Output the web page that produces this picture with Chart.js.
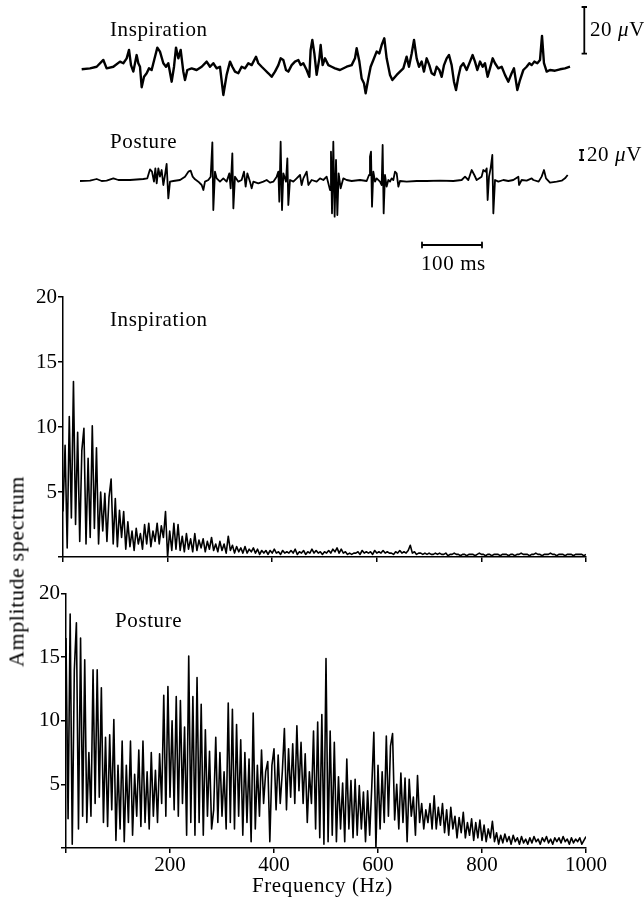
<!DOCTYPE html>
<html><head><meta charset="utf-8">
<script src="https://cdn.jsdelivr.net/npm/chart.js@4.4.1/dist/chart.umd.min.js"></script>
<style>
html,body{margin:0;padding:0;background:#fff;}
body{width:644px;height:907px;position:relative;overflow:hidden;font-family:"Liberation Serif","DejaVu Serif",serif;color:#000;}
canvas{position:absolute;left:0;}
.t{position:absolute;font-size:21px;line-height:21px;white-space:nowrap;letter-spacing:0.6px;}
.t i{font-style:italic;}
</style></head><body>
<canvas id="traces" width="644" height="280" style="top:0"></canvas>
<canvas id="spec1" width="644" height="300" style="top:280px"></canvas>
<canvas id="spec2" width="644" height="327" style="top:580px"></canvas>

<div class="t" style="left:110px;top:19px">Inspiration</div>
<div class="t" style="left:590px;top:19px">20 <i>μ</i>V</div>
<div class="t" style="left:110px;top:131px">Posture</div>
<div class="t" style="left:587px;top:144px">20 <i>μ</i>V</div>
<div class="t" style="left:421px;top:253px">100 ms</div>
<div class="t" style="left:110px;top:309px">Inspiration</div>
<div class="t" style="left:115px;top:610px">Posture</div>
<div class="t" style="left:252px;top:875px">Frequency (Hz)</div>
<div class="t" style="left:-134px;top:561px;width:300px;text-align:center;transform:rotate(-90deg);font-size:22px;">Amplitude spectrum</div>

<script>
// ---------- EMG traces (time in ms, amplitude in µV) ----------
const inspT = [2.8,16.7,27.8,38.9,44.4,55.6,66.7,72.2,77.8,81.7,85,88.9,94.4,97.2,100,102.8,106.7,111.1,115,119.4,125,128.9,133.3,138.9,143.3,147.2,152.8,156.7,160,163.9,167.8,172.2,175,178.9,186.1,194.4,202.8,211.1,216.7,222.2,227.8,233.3,238.9,244.4,250,253.9,258.3,263.9,269.4,275,280.6,286.1,293.3,297.2,302.8,308.3,313.9,319.4,325,330.6,334.4,338.9,343.3,347.2,352.8,358.3,363.9,367.8,372.2,377.8,382.2,384.4,387.2,390.6,394.4,398.9,401.1,404.4,408.3,413.9,419.4,425,433.3,444.4,452.8,458.3,461.1,465.6,469.4,473.3,476.1,480.6,484.4,488.9,494.4,498.9,502.8,507.2,511.1,516.7,520.6,527.8,533.3,538.9,544.4,548.3,552.8,556.7,561.1,565,569.4,573.3,577.8,582.2,586.1,590.6,594.4,598.9,602.8,606.7,611.1,615,619.4,623.3,626.7,630.6,634.4,638.9,644.4,650,654.4,658.3,662.2,666.7,671.1,675,679.4,683.3,687.8,691.7,697.2,702.8,708.3,713.9,719.4,723.3,728.9,733.3,738.9,744.4,748.9,752.8,757.2,762.2,766.7,770,773.3,777.8,783.3,791.7,800,808.3,816.7];
const inspV = [0.3,0.7,1.4,4.3,0.7,1.4,3.6,2.9,5.0,8.6,2.1,-0.7,6.4,2.9,1.4,-7.4,-2.9,-1.4,0.7,0,5.7,9.6,7.9,2.9,1.4,2.9,-5.0,1.4,9.6,5.0,8.6,-0.7,-4.3,0,0.7,0,1.4,3.6,1.4,2.9,0.7,1.4,-10.7,-2.1,3.6,1.4,-0.7,-1.4,1.4,0.7,2.9,2.1,5.7,2.9,1.4,0,-1.4,-2.9,-0.7,2.1,5.0,4.3,0,-0.7,2.1,3.6,4.3,2.1,2.9,0,-2.9,8.6,12.9,7.1,-2.1,5.0,10.7,2.1,5.0,2.1,1.4,0.7,0,1.4,2.1,5.0,9.3,3.6,-3.6,-5.7,-10.0,-3.6,1.4,4.3,7.9,7.1,10.7,13.6,5.0,-2.1,-4.3,-2.1,-0.7,0.7,5.7,1.4,7.1,12.9,5.0,1.4,3.6,-0.7,5.0,2.1,-1.4,-2.1,1.4,0,-2.9,2.1,5.0,6.4,2.1,-5.0,-8.6,-2.9,1.4,2.9,0,3.6,6.4,3.6,0,3.6,1.4,2.9,-2.9,0.7,5.0,2.9,0.7,1.4,-2.1,-5.0,-1.4,0.7,-8.6,-4.3,0,1.4,2.9,2.1,3.6,2.9,4.3,14.6,2.9,-0.7,0,-0.3,0.3,0.7,1.4];

const postT = [0,16.7,27.8,36.1,44.4,55.6,63.9,83.3,105.6,112.2,116.7,120,123.3,125.6,127.8,130.6,133.3,136.1,138.9,141.7,144.4,147.2,150,155.6,166.7,175,180.6,184.4,187.8,191.7,197.2,202.8,205.6,208.3,213.9,217.8,220.6,222.2,225,227.8,233.3,238.9,244.4,248.9,251.1,253.9,255.6,258.3,263.9,269.4,273.3,276.1,278.9,283.3,286.1,288.9,297.2,305.6,311.1,316.7,322.2,327.8,330.6,332.2,334.4,336.7,338.9,343.3,345.6,347.2,350,355.6,361.1,366.7,369.4,372.2,377.8,380.6,386.1,394.4,400,405.6,411.1,416.7,418.3,420,422.2,424.4,426.7,428.9,431.1,434.4,438.9,444.4,452.8,466.7,477.8,481.7,483.3,485,486.7,488.9,491.7,494.4,500,502.8,504.4,506.1,508.3,511.1,513.9,516.7,519.4,522.2,525,527.8,530.6,533.3,544.4,561.1,577.8,600,622.2,636.1,641.7,647.2,652.8,657.2,661.1,669.4,672.2,675.6,677.8,679.4,681.7,684.4,687.2,688.9,691.7,697.2,705.6,713.9,722.2,730.6,731.7,736.1,744.4,752.8,755.6,764.4,769.4,773.3,776.7,783.3,794.4,802.8,808.3,812.8];
const postV = [0,0.7,4,0,0.7,5.3,2,2,4,5.3,23.3,18.7,-1.3,25.3,-4.7,25.3,8.7,22,-8,12,34,-34.7,-1.3,0,2,8.7,18.7,20.7,8.7,3.3,-1.3,-8,-18,-1.3,2,8.7,77.3,-58,18.7,5.3,-1.3,5.3,-1.3,15.3,-14.7,55.3,-54.7,8.7,-1.3,2,18.7,-11.3,15.3,-1.3,-14.7,-1.3,-4.7,-1.3,2,-3.3,-1.3,8.7,18.7,-41.3,78.7,-58,15.3,-1.3,45.3,-48,2,-1.3,5.3,12,-8,5.3,18.7,-8,2,-1.3,5.3,2,8.7,-18,58.7,-64.7,78.7,-71.3,42,-68,15.3,-14.7,5.3,2,0,2,0,12,48.7,58.7,-51.3,18.7,-1.3,5.3,-1.3,-8,72,-64.7,12,-11.3,2,-1.3,5.3,2,18.7,15.3,-11.3,0,-1.3,0,0,0.7,0,2,8.7,2,22,12,2,8.7,22,18.7,25.3,-38,8.7,25.3,52,-64.7,2,-1.3,2,0,2,8.7,-8,2,0.7,5.3,2,-1.3,8.7,22,5.3,-3.3,-1.3,0.7,5.3,12];

// calibration bars (20 µV, 100 ms)
const calInspT = [836,845,null,840.5,840.5,null,836,845];
const calInspV = [27,27,null,27,7,null,7,7];
const calPostT = [832,840,null,836,836,null,832,840];
const calPostV = [62,62,null,62,42,null,42,42];
const calTimeT = [570,570,null,570,670,null,670,670];
const calTimeV = [-123,-133,null,-128,-128,null,-123,-133];

// ---------- Amplitude spectra (4 Hz resolution, 0..1000 Hz) ----------
const FREQ_STEP = 4;
const specInspiration = [
 3.5,8.6,0.7,10.8,3.0,13.5,2.5,9.6,1.2,8.2,
 9.9,1.0,7.6,1.5,10.1,2.2,8.4,1.0,5.0,2.0,
 4.9,1.2,4.6,6.0,1.0,4.5,0.8,3.6,1.5,3.5,
 0.6,2.7,0.8,2.0,0.5,2.2,1.0,1.8,0.6,2.5,
 1.0,2.6,0.8,2.0,1.2,2.6,1.0,2.4,1.5,3.5,
 0.0,2.0,0.5,2.6,0.6,2.5,0.5,1.6,0.4,1.8,
 0.6,1.4,0.4,1.8,0.5,1.3,0.7,1.4,0.4,1.2,
 0.6,1.5,0.5,1.0,0.4,1.2,0.5,1.0,0.3,1.6,
 0.5,0.9,0.3,0.8,0.4,0.7,0.3,0.8,0.3,0.6,
 0.4,0.7,0.3,0.6,0.2,0.5,0.3,0.5,0.2,0.5,
 0.3,0.6,0.3,0.4,0.2,0.5,0.3,0.4,0.3,0.5,
 0.3,0.6,0.2,0.4,0.3,0.5,0.2,0.4,0.3,0.6,
 0.3,0.5,0.3,0.4,0.2,0.4,0.3,0.5,0.3,0.6,
 0.4,0.7,0.3,0.6,0.3,0.4,0.2,0.3,0.2,0.3,
 0.3,0.4,0.2,0.5,0.3,0.4,0.3,0.4,0.2,0.5,
 0.3,0.4,0.3,0.5,0.3,0.4,0.3,0.3,0.2,0.4,
 0.3,0.5,0.3,0.4,0.3,0.5,0.9,0.3,0.4,0.2,
 0.3,0.3,0.2,0.3,0.2,0.3,0.2,0.2,0.3,0.2,
 0.3,0.2,0.2,0.3,0.1,0.2,0.2,0.3,0.2,0.2,
 0.1,0.2,0.2,0.1,0.2,0.2,0.2,0.1,0.2,0.3,
 0.2,0.2,0.1,0.2,0.2,0.1,0.2,0.2,0.2,0.1,
 0.2,0.2,0.2,0.1,0.2,0.2,0.1,0.2,0.2,0.3,
 0.2,0.2,0.2,0.1,0.2,0.2,0.3,0.2,0.2,0.1,
 0.2,0.2,0.2,0.3,0.2,0.2,0.1,0.2,0.2,0.2,
 0.1,0.2,0.2,0.2,0.1,0.2,0.2,0.2,0.2,0.1,
 0.2];
const specPosture = [
 16.5,2.3,18.4,0.3,14.0,17.7,1.5,16.5,2.5,14.8,
 2.0,7.5,2.5,14.0,3.5,14.0,4.0,12.6,2.0,8.7,
 1.7,8.9,3.0,10.1,0.6,6.5,1.5,8.4,0.5,6.5,
 2.0,8.4,1.0,5.8,2.5,7.7,1.7,8.4,2.0,6.0,
 1.5,7.5,2.5,6.1,2.0,7.4,3.5,12.0,2.5,12.7,
 4.0,10.0,3.0,11.9,2.5,11.6,3.5,9.5,1.0,15.1,
 2.0,11.9,1.0,13.4,2.0,11.3,1.0,9.3,2.5,7.6,
 1.5,3.0,8.7,2.0,7.5,2.5,6.0,1.5,11.4,2.0,
 10.9,1.5,9.7,2.5,8.5,1.0,7.5,2.0,7.0,0.5,
 10.6,1.5,6.5,2.5,7.7,3.5,6.0,6.8,0.5,6.5,
 7.8,3.0,7.3,3.5,6.0,9.4,3.0,7.8,4.0,8.2,
 3.5,9.6,4.5,8.3,3.5,7.4,2.0,6.0,3.5,9.2,
 1.5,9.9,0.8,10.5,0.3,14.9,0.5,9.2,1.0,8.3,
 0.5,5.6,1.5,5.1,0.5,7.0,1.5,5.3,0.8,5.4,
 1.0,4.9,1.5,4.4,0.5,4.5,1.0,4.8,9.1,0.0,
 6.5,1.5,6.0,2.0,8.8,2.5,8.0,9.0,2.2,5.0,
 1.5,5.9,2.0,5.5,0.5,5.4,2.5,4.0,1.0,5.7,
 2.0,3.5,1.5,3.0,2.0,3.5,1.5,4.1,1.5,3.2,
 1.8,3.5,1.2,3.0,1.0,3.2,1.5,2.5,0.8,2.4,
 1.2,2.8,0.8,2.0,1.0,2.3,0.6,2.0,0.8,2.2,
 0.6,1.8,0.5,1.5,0.8,2.1,0.5,1.2,0.3,1.0,
 0.4,1.1,0.5,0.9,0.3,1.0,0.5,0.8,0.3,0.9,
 0.4,0.7,0.3,0.8,0.4,0.9,0.5,0.7,0.3,0.8,
 0.5,0.9,0.4,0.7,0.3,0.8,0.5,0.8,0.4,0.9,
 0.5,0.7,0.3,0.8,0.4,0.7,0.5,0.8,0.3,0.6,
 0.9];
const freqTicks = [200,400,600,800,1000];
const ampTicks = [5,10,15,20];

// ---------- helpers ----------
const zip = (xs, ys) => xs.map((x, i) => ({x: x, y: ys[i]}));
const specPoints = vals => vals.map((v, i) => ({x: i * FREQ_STEP, y: v}));
const SERIF = '"Liberation Serif","DejaVu Serif",serif';
Chart.defaults.font.family = SERIF;
Chart.defaults.color = '#000';

const lineDs = (data, yAxisID, width) => ({
  data: data, yAxisID: yAxisID, borderColor: '#000', borderWidth: width,
  pointRadius: 0, tension: 0, fill: false, spanGaps: false, borderJoinStyle: 'round'
});

// ---------- top traces ----------
new Chart(document.getElementById('traces'), {
  type: 'line',
  data: { datasets: [
    lineDs(zip(inspT, inspV), 'y1', 2.4),
    lineDs(zip(postT, postV), 'y2', 1.8),
    lineDs(zip(calInspT, calInspV), 'y1', 1.8),
    lineDs(zip(calPostT, calPostV), 'y2', 1.8),
    lineDs(zip(calTimeT, calTimeV), 'y2', 1.8)
  ]},
  options: {
    responsive: false, animation: false, devicePixelRatio: 1,
    layout: { padding: 0 },
    plugins: { legend: {display: false}, tooltip: {enabled: false} },
    scales: {
      x: { type: 'linear', display: false, min: -133.33, max: 940 },
      y1: { type: 'linear', display: false, min: -90, max: 30 },
      y2: { type: 'linear', display: false, min: -198, max: 362 }
    }
  }
});

// ---------- spectra ----------
function spectrum(id, vals, cfg) {
  new Chart(document.getElementById(id), {
    type: 'line',
    data: { datasets: [ lineDs(specPoints(vals), 'y', 1.6) ] },
    options: {
      responsive: false, animation: false, devicePixelRatio: 1,
      layout: { padding: { top: cfg.padTop, right: 58, left: 0, bottom: 0 } },
      plugins: { legend: {display: false}, tooltip: {enabled: false} },
      scales: {
        x: {
          type: 'linear', min: 0, max: 1000,
          afterFit: s => { s.height = cfg.xHeight; },
          afterBuildTicks: s => { s.ticks = [0].concat(freqTicks).map(v => ({value: v})); },
          border: { display: true, color: '#000', width: 1.5 },
          grid: { display: true, drawOnChartArea: false, drawTicks: true, tickLength: 5, color: '#000', lineWidth: 1.5 },
          ticks: { maxRotation: 0, autoSkip: false, padding: 0, color: '#000',
                   font: { family: SERIF, size: 21 },
                   callback: v => (cfg.showX && v !== 0) ? String(v) : '' }
        },
        y: {
          type: 'linear', min: 0, max: 20,
          afterFit: s => { s.width = cfg.yWidth; },
          afterBuildTicks: s => { s.ticks = [0].concat(ampTicks).map(v => ({value: v})); },
          border: { display: true, color: '#000', width: 1.5 },
          grid: { display: true, drawOnChartArea: false, drawTicks: true, tickLength: 5, color: '#000', lineWidth: 1.5 },
          ticks: { padding: 1, color: '#000', font: { family: SERIF, size: 21 },
                   callback: v => v === 0 ? '' : String(v) }
        }
      }
    }
  });
}
spectrum('spec1', specInspiration, { padTop: 17, xHeight: 23, yWidth: 63, showX: false });
spectrum('spec2', specPosture, { padTop: 13, xHeight: 59, yWidth: 66, showX: true });
</script>
</body></html>
